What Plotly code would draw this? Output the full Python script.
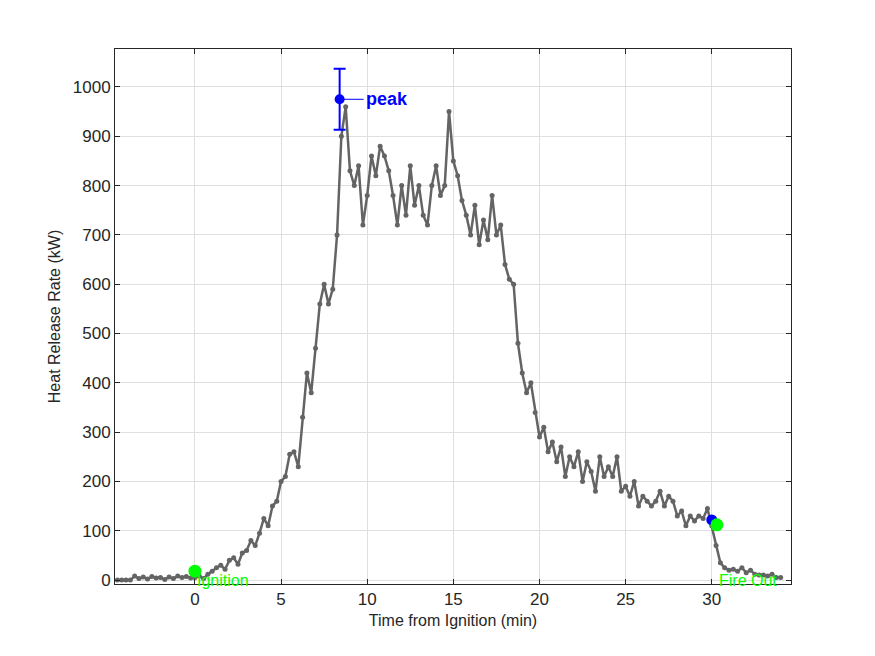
import plotly.graph_objects as go

t_start = -4.5
t_step = 0.25
hrr = [
    0, 0, 0, 0,
    8, 3, 6, 2, 7, 4, 5, 1, 6, 3, 8, 5, 7, 4,
    5, 8, 3, 12,
    18, 25, 30, 22,
    40, 45, 32, 55,
    60, 80, 70, 95,
    125, 110, 150, 160,
    200, 210, 255, 260,
    230, 330, 420, 380,
    470, 560, 600, 560,
    590, 700, 900, 960,
    830, 800, 840, 720,
    780, 860, 820, 880,
    860, 830, 780, 720,
    800, 740, 840, 760,
    800, 740, 720, 800,
    840, 780, 800, 950,
    850, 820, 770, 740,
    700, 760, 680, 730,
    690, 780, 700, 720,
    640, 610, 600, 480,
    420, 380, 400, 340,
    290, 310, 260, 280,
    240, 270, 210, 250,
    230, 260, 200, 240,
    220, 180, 250, 210,
    230, 210, 250, 180,
    190, 170, 200, 150,
    170, 160, 150, 160,
    180, 150, 170, 160,
    130, 140, 110, 130,
    120, 130, 125, 145,
    110, 70, 35, 25,
    20, 22, 18, 25,
    15, 20, 12, 10,
    10, 8, 12, 5,
    5,
]
time = [t_start + t_step * i for i in range(len(hrr))]

peak_t, peak_q, peak_err = 8.4, 975, 62
ign_t, ign_q = 0, 18
end_t, end_q = 30.0, 122
out_t, out_q = 30.3, 112

fig = go.Figure()
fig.add_trace(go.Scatter(
    x=time, y=hrr, mode="lines+markers",
    line=dict(color="#646464", width=2.5),
    marker=dict(size=5, color="#646464"),
))
fig.add_trace(go.Scatter(
    x=[peak_t], y=[peak_q], mode="markers",
    marker=dict(size=10, color="#0000ff"),
    error_y=dict(type="constant", value=peak_err, color="#0000ff", thickness=2, width=6),
))
fig.add_trace(go.Scatter(
    x=[end_t], y=[end_q], mode="markers",
    marker=dict(size=11, color="#0000ff"),
))
fig.add_trace(go.Scatter(
    x=[ign_t, out_t], y=[ign_q, out_q], mode="markers",
    marker=dict(size=13, color="#00ff00"),
))

fig.add_annotation(
    x=peak_t, y=peak_q, text="<b>peak</b>", ax=24, ay=0,
    xanchor="left", showarrow=True, arrowhead=0,
    arrowcolor="#0000ff", arrowwidth=1, standoff=4,
    font=dict(color="#0000ff", size=18),
)
fig.add_annotation(x=ign_t, y=0, text="Ignition", showarrow=False,
                   xanchor="left", yanchor="middle",
                   font=dict(color="#00ff00", size=16))
fig.add_annotation(x=out_t, y=0, text="Fire Out", showarrow=False,
                   xanchor="left", yanchor="middle",
                   font=dict(color="#00ff00", size=16))

axis_style = dict(
    showline=True, linecolor="#262626", linewidth=1, mirror="ticks",
    ticks="inside", ticklen=5, tickcolor="#262626",
    showgrid=True, gridcolor="#dfdfdf", zeroline=False,
    tickfont=dict(size=17, color="#262626"),
)
fig.update_xaxes(range=[-4.64, 34.6], tickvals=[0, 5, 10, 15, 20, 25, 30],
                 title=dict(text="Time from Ignition (min)", font=dict(size=16), standoff=6),
                 **axis_style)
fig.update_yaxes(range=[-8, 1077], tickvals=list(range(0, 1001, 100)),
                 title=dict(text="Heat Release Rate (kW)", font=dict(size=16), standoff=8),
                 **axis_style)
fig.update_layout(
    width=875, height=656, showlegend=False,
    paper_bgcolor="white", plot_bgcolor="white",
    font=dict(family="Liberation Sans, Arial", color="#262626"),
    margin=dict(l=107, r=92, t=41, b=80),
)
fig.write_html("out.html")
